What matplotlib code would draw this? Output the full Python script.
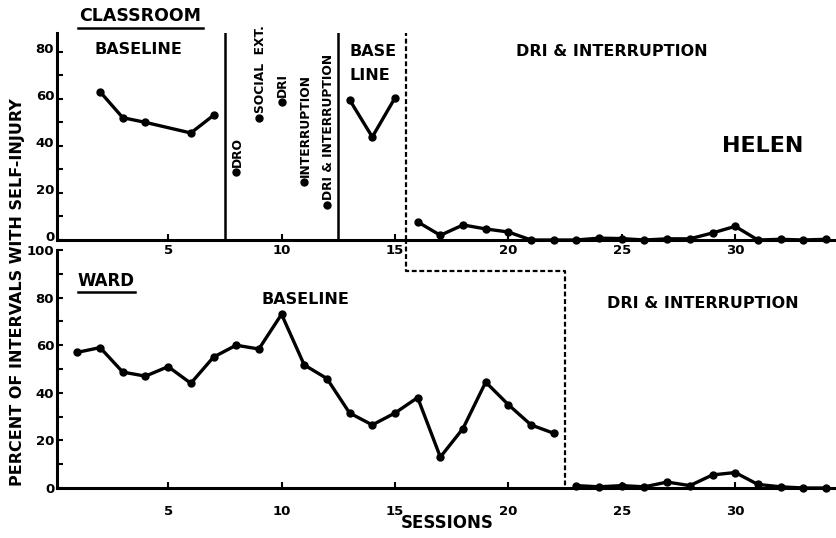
import matplotlib
matplotlib.use("Agg")
import matplotlib.pyplot as plt
import matplotlib.transforms as mtransforms
from matplotlib.lines import Line2D

# ---------------- data ----------------
# Classroom (top panel)
cls_base1_x = [2, 3, 4, 6, 7]
cls_base1_y = [63, 52, 50, 45.5, 53]
cls_single_x = [8, 9, 10, 11, 12]
cls_single_y = [29, 52, 58.7, 24.7, 15]
cls_single_labels = ["DRO", "SOCIAL  EXT.", "DRI", "INTERRUPTION", "DRI & INTERRUPTION"]
cls_base2_x = [13, 14, 15]
cls_base2_y = [59.6, 43.8, 60.4]
cls_treat_x = [16, 17, 18, 19, 20, 21, 22, 23, 24, 25, 26, 27, 28, 29, 30, 31, 32, 33, 34]
cls_treat_y = [7.7, 2, 6.4, 4.7, 3.4, 0, 0, 0, 0.8, 0.6, 0, 0.5, 0.5, 3, 5.8, 0, 0.3, 0, 0.3]

# Ward (bottom panel)
ward_base_x = list(range(1, 23))
ward_base_y = [57, 59, 48.7, 47, 51, 44, 55, 60, 58.4, 73, 51.7, 46, 31.5, 26.5,
               31.5, 38, 13, 25, 44.5, 35, 26.5, 23]
ward_treat_x = list(range(23, 35))
ward_treat_y = [1, 0.5, 1, 0.5, 2.5, 1, 5.5, 6.5, 1.5, 0.5, 0, 0]

# phase change positions
cls_solid_lines = [7.5, 12.5]
cls_dashed_line = 15.5
ward_dashed_line = 22.5

xticks = [5, 10, 15, 20, 25, 30]
yticks_top = [0, 20, 40, 60, 80]
yticks_bot = [0, 20, 40, 60, 80, 100]

# ---------------- figure ----------------
W, H = 837, 538
fig = plt.figure(figsize=(W / 100, H / 100), dpi=100)
plt.rcParams['font.family'] = ['DejaVu Sans']
FW = 'bold'

def fx(px):
    return px / W

def fy(py):
    return 1 - py / H

ax1 = fig.add_axes([fx(57), fy(240), fx(835) - fx(57), fy(33) - fy(240)])
ax2 = fig.add_axes([fx(57), fy(488), fx(835) - fx(57), fy(250) - fy(488)])

XL = (0.1, 34.4)
for ax in (ax1, ax2):
    ax.set_xlim(*XL)
    for s in ('top', 'right'):
        ax.spines[s].set_visible(False)
    ax.spines['left'].set_linewidth(2.2)
    ax.spines['bottom'].set_linewidth(2.2)
    ax.set_xticks(xticks)
    ax.set_xticklabels([str(t) for t in xticks], fontweight=FW, fontsize=9.5)
    ax.tick_params(axis='x', direction='in', length=4, width=1.5)
    ax.tick_params(axis='y', direction='in', length=4, width=1.5, pad=2)
    ax.set_facecolor('none')

ax1.set_ylim(0, 88)
ax1.set_yticks(list(range(0, 81, 10)))
ax1.set_yticklabels([str(v) if v in yticks_top else '' for v in range(0, 81, 10)],
                    fontweight=FW, fontsize=9.5)
ax1.tick_params(axis='x', pad=3)

ax2.set_ylim(0, 100)
ax2.set_yticks(list(range(0, 101, 10)))
ax2.set_yticklabels([str(v) if v in yticks_bot else '' for v in range(0, 101, 10)],
                    fontweight=FW, fontsize=9.5)
ax2.tick_params(axis='x', pad=12)

# top panel tick labels sit slightly above their ticks, as in the original
shift = mtransforms.ScaledTranslation(0, 4 / 100, fig.dpi_scale_trans)
for lab in ax1.get_yticklabels():
    lab.set_transform(lab.get_transform() + shift)

lk = dict(color='black', lw=2.4, marker='o', ms=5, solid_joinstyle='round')

# top panel data
ax1.plot(cls_base1_x, cls_base1_y, **lk)
ax1.plot(cls_base2_x, cls_base2_y, **lk)
ax1.plot(cls_treat_x, cls_treat_y, clip_on=False, **lk)
ax1.plot(cls_single_x, cls_single_y, ls='none', marker='o', ms=5, color='black')
for x, y, lab in zip(cls_single_x, cls_single_y, cls_single_labels):
    ax1.text(x + 0.05, y + 2.2, lab, rotation=90, ha='center', va='bottom',
             fontsize=8.8, fontweight=FW, clip_on=False)

for xv in cls_solid_lines:
    ax1.axvline(xv, color='black', lw=1.8)
ax1.axvline(cls_dashed_line, color='black', lw=1.6, ls=(0, (2.2, 1.2)))

# bottom panel data
ax2.plot(ward_base_x, ward_base_y, **lk)
ax2.plot(ward_treat_x, ward_treat_y, clip_on=False, **lk)

step_y = 91
top_y = 104.5
ax2.plot([cls_dashed_line, cls_dashed_line, ward_dashed_line, ward_dashed_line],
         [top_y, step_y, step_y, 0], color='black', lw=1.6, ls=(0, (2.2, 1.2)),
         clip_on=False)

# ---------------- text ----------------
tk = dict(fontweight=FW, color='black')
fig.text(fx(140), fy(16), "CLASSROOM", ha='center', va='center', fontsize=12.5, **tk)
fig.add_artist(Line2D([fx(78), fx(203)], [fy(28), fy(28)], color='black', lw=1.8))
fig.text(fx(138), fy(49), "BASELINE", ha='center', va='center', fontsize=11.5, **tk)
fig.text(fx(373), fy(52), "BASE", ha='center', va='center', fontsize=11.5, **tk)
fig.text(fx(370), fy(75), "LINE", ha='center', va='center', fontsize=11.5, **tk)
fig.text(fx(612), fy(52), "DRI & INTERRUPTION", ha='center', va='center', fontsize=11.5, **tk)
fig.text(fx(763), fy(146), "HELEN", ha='center', va='center', fontsize=16, **tk)

fig.text(fx(106), fy(281), "WARD", ha='center', va='center', fontsize=12, **tk)
fig.add_artist(Line2D([fx(78), fx(135)], [fy(292), fy(292)], color='black', lw=1.8))
fig.text(fx(305), fy(300), "BASELINE", ha='center', va='center', fontsize=11.5, **tk)
fig.text(fx(703), fy(303), "DRI & INTERRUPTION", ha='center', va='center', fontsize=11.5, **tk)

fig.text(fx(18), fy(292), "PERCENT OF INTERVALS WITH SELF-INJURY", rotation=90,
         ha='center', va='center', fontsize=11.5, **tk)
fig.text(fx(447), fy(523), "SESSIONS", ha='center', va='center', fontsize=12, **tk)

fig.savefig("out.png", dpi=100, facecolor='white')
